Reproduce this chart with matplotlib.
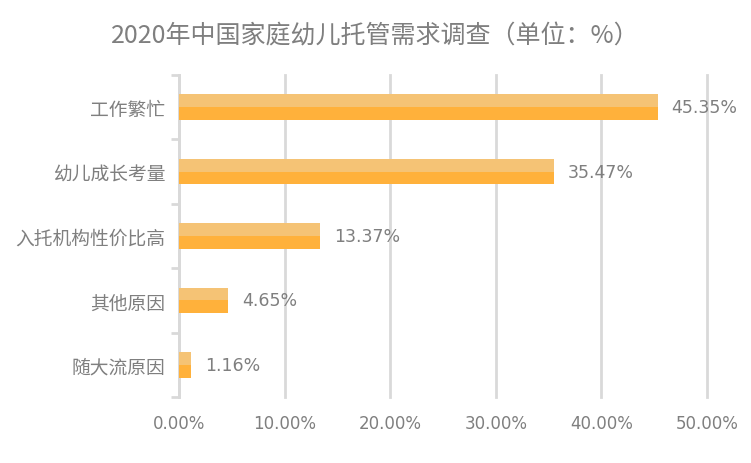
import matplotlib
matplotlib.use("Agg")
import matplotlib.pyplot as plt
import numpy as np

plt.rcParams['font.family'] = ['Noto Sans CJK SC', 'DejaVu Sans']

categories = ["工作繁忙", "幼儿成长考量", "入托机构性价比高", "其他原因", "随大流原因"]
values = [45.35, 35.47, 13.37, 4.65, 1.16]
xticks = [0, 10, 20, 30, 40, 50]

text_color = "#7F7F7F"
grid_color = "#D9D9D9"

fig = plt.figure(figsize=(7.51, 4.64), dpi=100)
ax = fig.add_axes([0.2383, 0.1422, 0.7031, 0.6940])

y = np.arange(len(categories))[::-1]
bh = 0.2
ax.barh(y + bh / 2, values, height=bh, color="#F5C375", zorder=3)
ax.barh(y - bh / 2, values, height=bh, color="#FFB13B", zorder=3)

for yi, v in zip(y, values):
    ax.text(v + 1.3, yi, f"{v:.2f}%", va="center", ha="left",
            fontsize=12.5, color=text_color, family=['DejaVu Sans'])

ax.set_xlim(0, 50)
ax.set_ylim(-0.5, len(categories) - 0.5)
ax.set_xticks(xticks)
ax.set_xticklabels([f"{t:.2f}%" for t in xticks], fontsize=12, color=text_color,
                   family=['DejaVu Sans'])
ax.set_yticks(y)
ax.set_yticklabels(categories, fontsize=13.5, color=text_color)
ax.set_yticks(np.arange(-0.5, len(categories), 1), minor=True)

ax.tick_params(axis="x", length=0, pad=12)
ax.tick_params(axis="y", which="major", length=0, pad=10)
ax.tick_params(axis="y", which="minor", length=6, width=2, color=grid_color)

ax.grid(axis="x", color=grid_color, linewidth=2, zorder=0)
for gl in ax.get_xgridlines():
    gl.set_clip_on(False)
for s in ["top", "right", "bottom"]:
    ax.spines[s].set_visible(False)
ax.spines["left"].set_color(grid_color)
ax.spines["left"].set_linewidth(2)

fig.suptitle("2020年中国家庭幼儿托管需求调查（单位：%）", x=0.5, y=0.95,
             fontsize=18, color=text_color)

fig.savefig("out.png", dpi=100)
